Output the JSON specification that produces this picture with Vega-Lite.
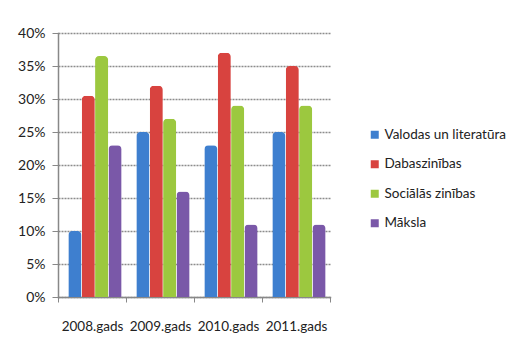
{
  "$schema": "https://vega.github.io/schema/vega-lite/v6.json",
  "width": 272,
  "height": 264,
  "autosize": {"type": "none"},
  "padding": {"left": 58, "top": 33, "right": 187, "bottom": 56},
  "background": "#ffffff",
  "data": {
    "values": [
      {"year": "2008.gads", "subject": "Valodas un literatūra", "share": 0.10},
      {"year": "2008.gads", "subject": "Dabaszinības", "share": 0.305},
      {"year": "2008.gads", "subject": "Sociālās zinības", "share": 0.365},
      {"year": "2008.gads", "subject": "Māksla", "share": 0.23},
      {"year": "2009.gads", "subject": "Valodas un literatūra", "share": 0.25},
      {"year": "2009.gads", "subject": "Dabaszinības", "share": 0.32},
      {"year": "2009.gads", "subject": "Sociālās zinības", "share": 0.27},
      {"year": "2009.gads", "subject": "Māksla", "share": 0.16},
      {"year": "2010.gads", "subject": "Valodas un literatūra", "share": 0.23},
      {"year": "2010.gads", "subject": "Dabaszinības", "share": 0.37},
      {"year": "2010.gads", "subject": "Sociālās zinības", "share": 0.29},
      {"year": "2010.gads", "subject": "Māksla", "share": 0.11},
      {"year": "2011.gads", "subject": "Valodas un literatūra", "share": 0.25},
      {"year": "2011.gads", "subject": "Dabaszinības", "share": 0.35},
      {"year": "2011.gads", "subject": "Sociālās zinības", "share": 0.29},
      {"year": "2011.gads", "subject": "Māksla", "share": 0.11}
    ]
  },
  "mark": {"type": "bar", "cornerRadiusTopLeft": 4, "cornerRadiusTopRight": 4, "stroke": null},
  "encoding": {
    "x": {
      "field": "year",
      "type": "nominal",
      "sort": null,
      "scale": {"paddingInner": 0, "paddingOuter": 0},
      "axis": {
        "title": null,
        "labelAngle": 0,
        "labelFont": "Lato",
        "labelFontSize": 13.5,
        "labelColor": "#222222",
        "labelPadding": 17,
        "tickBand": "extent",
        "tickSize": 5,
        "tickColor": "#888888",
        "domainColor": "#888888",
        "domainWidth": 1.5
      }
    },
    "xOffset": {
      "field": "subject",
      "type": "nominal",
      "sort": ["Valodas un literatūra", "Dabaszinības", "Sociālās zinības", "Māksla"],
      "scale": {"paddingInner": 0.02, "paddingOuter": 0.55, "align": 0.7}
    },
    "y": {
      "field": "share",
      "type": "quantitative",
      "scale": {"domain": [0, 0.4], "nice": false},
      "axis": {
        "title": null,
        "format": ".0%",
        "values": [0, 0.05, 0.1, 0.15, 0.2, 0.25, 0.3, 0.35, 0.4],
        "labelFont": "Lato",
        "labelFontSize": 14,
        "labelColor": "#222222",
        "labelPadding": 7,
        "tickSize": 6,
        "tickColor": "#888888",
        "domainColor": "#888888",
        "domainWidth": 1.5,
        "gridColor": "#8c8c8c",
        "gridWidth": 1.5,
        "gridDash": [2, 1]
      }
    },
    "color": {
      "field": "subject",
      "type": "nominal",
      "sort": ["Valodas un literatūra", "Dabaszinības", "Sociālās zinības", "Māksla"],
      "scale": {
        "domain": ["Valodas un literatūra", "Dabaszinības", "Sociālās zinības", "Māksla"],
        "range": ["#3e7fcf", "#d8433f", "#9cc83f", "#7a58a8"]
      },
      "legend": {
        "title": null,
        "orient": "none",
        "legendX": 310,
        "legendY": 95,
        "symbolType": "square",
        "symbolSize": 64,
        "symbolStrokeWidth": 0,
        "labelFont": "Lato",
        "labelFontSize": 13.5,
        "labelColor": "#222222",
        "labelOffset": 3,
        "rowPadding": 14.5
      }
    }
  },
  "config": {
    "view": {"stroke": null},
    "axis": {"domainCap": "square"}
  }
}
